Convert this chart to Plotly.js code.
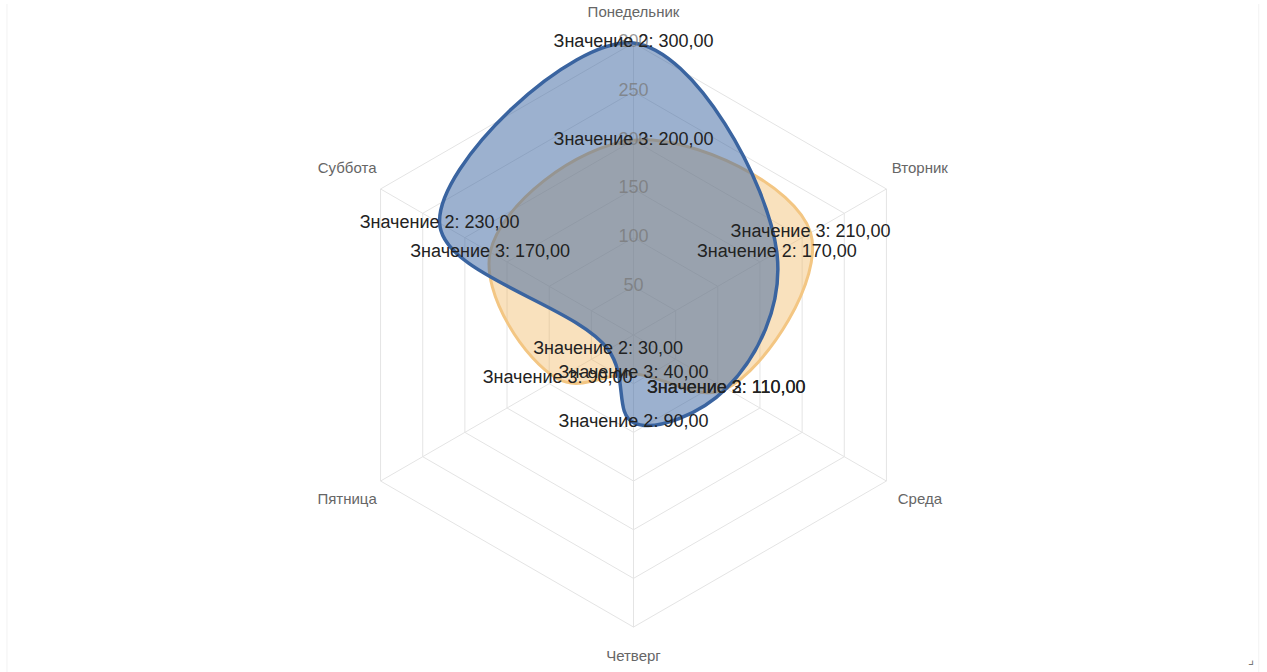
<!DOCTYPE html>
<html>
<head>
<meta charset="utf-8">
<script src="https://cdn.plot.ly/plotly-3.0.1.min.js"></script>
<style>
html,body{margin:0;padding:0;background:#fff;}
#chart{width:1267px;height:672px;}
</style>
</head>
<body>
<div id="chart"></div>
<script>
var categories = ["Понедельник", "Вторник", "Среда", "Четверг", "Пятница", "Суббота"];
var series2Name = "Значение 2";
var series2Values = [300, 170, 110, 90, 30, 230];
var series3Name = "Значение 3";
var series3Values = [200, 210, 110, 40, 90, 170];
var radialTicks = [50, 100, 150, 200, 250, 300];
var radialTickLabels = ["50", "100", "150", "200", "250", "300"];

var AXIS_MAX = 300;     // outer grid ring
var RANGE_MAX = 340;    // room for smoothed curves & category labels
var FONT = "Liberation Sans, Arial, sans-serif";
var GRID = "#e4e4e4";
var SMOOTH = 1.1;

function closed(arr) { return arr.concat([arr[0]]); }
function fmt(v) { return v.toFixed(2).replace(".", ","); }
function labels(name, vals) { return vals.map(function (v) { return name + ": " + fmt(v); }); }

// spokes from centre to outer ring
var spokeR = [], spokeT = [];
categories.forEach(function (c) { spokeR.push(0, AXIS_MAX, null); spokeT.push(c, c, null); });

// category label radius: a bit farther on the sides (wider horizontal text)
var catLabelR = categories.map(function (c, i) {
  var ang = i * 2 * Math.PI / categories.length;
  return Math.min(RANGE_MAX - 0.2, 331 + 10 * Math.abs(Math.sin(ang)));
});

var traces = [
  {
    type: "scatterpolar", r: spokeR, theta: spokeT, mode: "lines",
    line: { color: GRID, width: 1 }, connectgaps: false,
    hoverinfo: "skip", showlegend: false
  },
  {
    type: "scatterpolar",
    r: closed(series3Values),
    theta: closed(categories),
    mode: "lines",
    line: { shape: "spline", smoothing: SMOOTH, color: "#f3c683", width: 3 },
    fill: "toself",
    fillcolor: "rgba(240,180,90,0.4)",
    hoverinfo: "skip",
    showlegend: false
  },
  {
    type: "scatterpolar",
    r: closed(series2Values),
    theta: closed(categories),
    mode: "lines",
    line: { shape: "spline", smoothing: SMOOTH, color: "#3a64a0", width: 3.5 },
    fill: "toself",
    fillcolor: "rgba(58,100,160,0.5)",
    hoverinfo: "skip",
    showlegend: false
  },
  {
    type: "scatterpolar",
    r: radialTicks,
    theta: radialTicks.map(function () { return categories[0]; }),
    mode: "text",
    text: radialTickLabels,
    textposition: "middle center",
    textfont: { family: FONT, size: 18, color: "rgba(120,120,120,0.75)" },
    cliponaxis: false,
    hoverinfo: "skip",
    showlegend: false
  },
  {
    type: "scatterpolar",
    r: catLabelR,
    theta: categories,
    mode: "text",
    text: categories,
    textposition: "middle center",
    textfont: { family: FONT, size: 15, color: "#666" },
    cliponaxis: false,
    hoverinfo: "skip",
    showlegend: false
  },
  {
    type: "scatterpolar",
    r: series3Values,
    theta: categories,
    mode: "text",
    text: labels(series3Name, series3Values),
    textposition: "middle center",
    textfont: { family: FONT, size: 18, color: "#222" },
    cliponaxis: false,
    hoverinfo: "skip",
    showlegend: false
  },
  {
    type: "scatterpolar",
    r: series2Values,
    theta: categories,
    mode: "text",
    text: labels(series2Name, series2Values),
    textposition: "middle center",
    textfont: { family: FONT, size: 18, color: "#222" },
    cliponaxis: false,
    hoverinfo: "skip",
    showlegend: false
  }
];

var layout = {
  width: 1267,
  height: 672,
  margin: { l: 0, r: 0, t: 4, b: 6, pad: 0 },
  paper_bgcolor: "#ffffff",
  plot_bgcolor: "#ffffff",
  showlegend: false,
  font: { family: FONT },
  polar: {
    bgcolor: "rgba(0,0,0,0)",
    gridshape: "linear",
    domain: { x: [0, 1], y: [0, 1] },
    radialaxis: {
      range: [0, RANGE_MAX],
      tickvals: radialTicks,
      showticklabels: false,
      showline: false,
      ticks: "",
      gridcolor: GRID,
      gridwidth: 1,
      angle: 90
    },
    angularaxis: {
      type: "category",
      categoryarray: categories,
      direction: "clockwise",
      rotation: 90,
      ticks: "",
      showline: false,
      showgrid: false,
      showticklabels: false
    }
  },
  shapes: [
    { type: "line", xref: "paper", yref: "paper", x0: 0.0055, x1: 0.0055, y0: -0.01, y1: 1, line: { color: "#f2f2f2", width: 1 } },
    { type: "line", xref: "paper", yref: "paper", x0: 0.9935, x1: 0.9935, y0: -0.01, y1: 1, line: { color: "#f2f2f2", width: 1 } }
  ],
  annotations: [
    { xref: "paper", yref: "paper", x: 0.9875, y: -0.004, xanchor: "center", yanchor: "bottom", text: "⌟", showarrow: false, font: { size: 13, color: "#777" } }
  ]
};

Plotly.newPlot("chart", traces, layout, { displayModeBar: false, staticPlot: true });
</script>
</body>
</html>
